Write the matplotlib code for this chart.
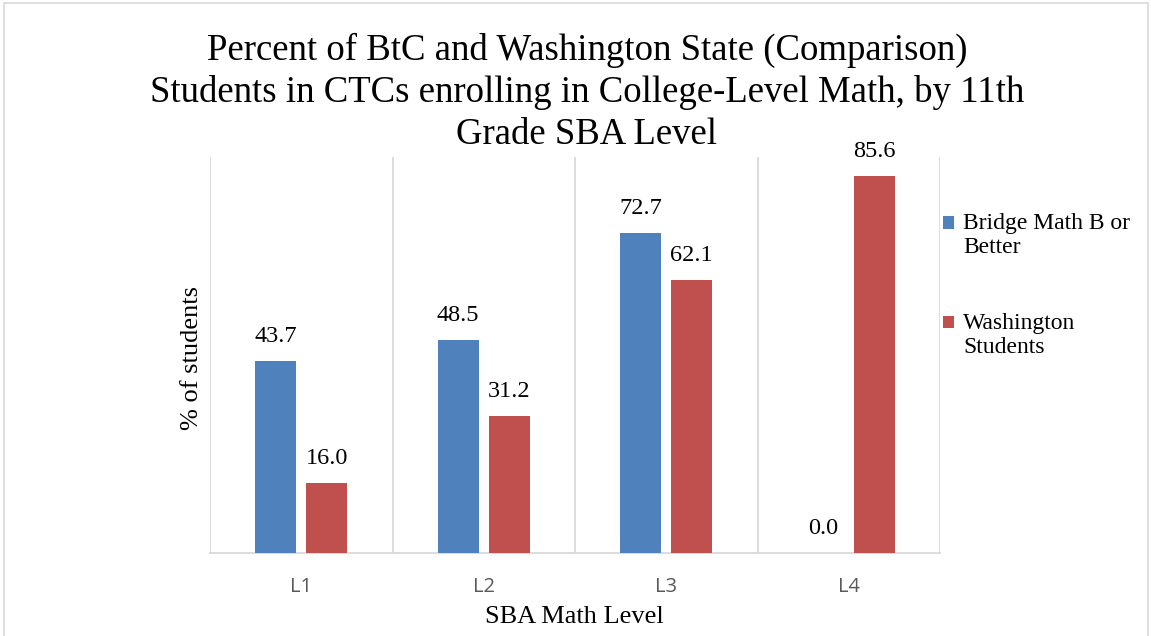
"""Bar chart: BtC vs Washington students enrolling in college-level math, by SBA level."""
import matplotlib
matplotlib.use("Agg")
import matplotlib.pyplot as plt
import numpy as np
from matplotlib.patches import Rectangle
from matplotlib.container import BarContainer
from matplotlib.legend_handler import HandlerPatch, update_from_first_child

levels = ["L1", "L2", "L3", "L4"]
bridge = [43.7, 48.5, 72.7, 0.0]
washington = [16.0, 31.2, 62.1, 85.6]
series_names = ["Bridge Math B or\nBetter", "Washington\nStudents"]
title_lines = ["Percent of BtC and Washington State (Comparison)",
               "Students in CTCs enrolling in College-Level Math, by 11th",
               "Grade SBA Level"]

BLUE = "#4f81bd"
RED = "#c0504d"
SERIF = "Liberation Serif"

W, H = 1151, 636
fig = plt.figure(figsize=(W / 100, H / 100), dpi=100)
fig.patches.append(Rectangle((4 / W, -0.01), (W - 7) / W, 1 - 3 / H + 0.01,
                             transform=fig.transFigure, fill=False,
                             edgecolor="#d9d9d9", linewidth=1.2))

ax = fig.add_axes([210 / W, 1 - 553 / H, 730 / W, 396 / H])
x = np.arange(len(levels))
bw = 0.225
off = 0.14
b1 = ax.bar(x - off, bridge, bw, color=BLUE, label=series_names[0], zorder=3)
b2 = ax.bar(x + off, washington, bw, color=RED, label=series_names[1], zorder=3)

for bars in (b1, b2):
    for r in bars:
        ax.text(r.get_x() + r.get_width() / 2, r.get_height() + 3.2,
                f"{r.get_height():.1f}", ha="center", va="bottom",
                fontsize=17.5, family=SERIF, color="black")

ax.set_xlim(-0.5, 3.5)
ax.set_ylim(0, 90)
ax.set_yticks([])
ax.set_xticks(x)
ax.set_xticklabels(levels, fontsize=14.5, family="Open Sans", color="#595959")
ax.tick_params(axis="x", length=0, pad=17)
for b in np.arange(-0.5, 4.0, 1.0):
    ax.axvline(b, color="#d9d9d9", linewidth=1.3, zorder=1)
for s in ["top", "right", "left"]:
    ax.spines[s].set_visible(False)
ax.spines["bottom"].set_color("#d9d9d9")
ax.spines["bottom"].set_linewidth(1.3)

fig.text(574 / W, 1 - 617 / H, "SBA Math Level", fontsize=19,
         family=SERIF, ha="center", va="center")
fig.text(192 / W, 1 - 358 / H, "% of students", rotation=90, fontsize=19,
         family=SERIF, ha="center", va="center")

for i, line in enumerate(title_lines):
    fig.text(587 / W, 1 - (50 + 42.5 * i) / H, line, ha="center", va="center",
             fontsize=26.5, family=SERIF)


# legend square sits on the first line of the wrapped label, like Excel does
def top_square(legend, orig_handle, xdescent, ydescent, width, height, fontsize):
    return Rectangle((-xdescent, -ydescent + 0.55 * fontsize), width, height)


square = HandlerPatch(patch_func=top_square, update_func=update_from_first_child)
leg = fig.legend(loc="upper left", bbox_to_anchor=(922 / W, 1 - 192 / H),
                 frameon=False, prop={"family": SERIF, "size": 17},
                 handlelength=0.45, handleheight=0.45, handletextpad=0.4,
                 labelspacing=2.3, handler_map={BarContainer: square})

fig.savefig("out.png", dpi=100)
